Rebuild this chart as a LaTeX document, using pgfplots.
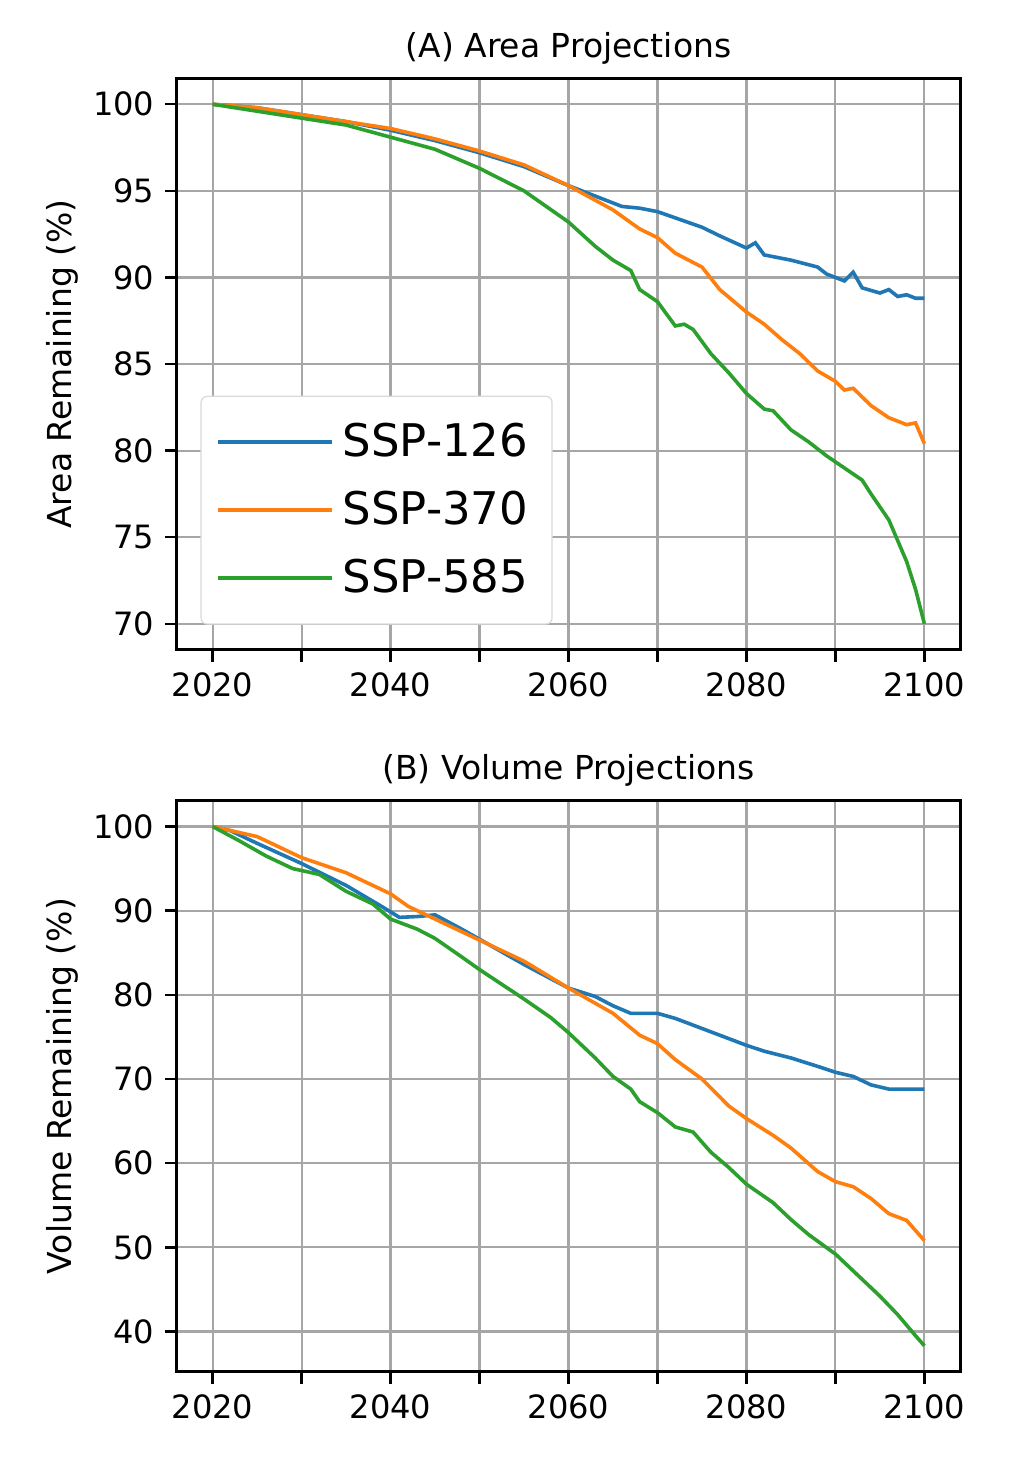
\documentclass[border=0pt]{standalone}
\usepackage{pgfplots}
\pgfplotsset{compat=1.18}
\usepackage{fontspec}
\setmainfont{DejaVu Sans}
\definecolor{tb}{HTML}{1F77B4}
\definecolor{to}{HTML}{FF7F0E}
\definecolor{tg}{HTML}{2CA02C}
\pgfplotsset{
  common/.style={
    scale only axis, width=261pt, height=190.5pt,
    xmin=2016, xmax=2104,
    xtick={2020,2030,...,2100},
    xticklabels={2020,,2040,,2060,,2080,,2100},
    xtick pos=bottom, ytick pos=left,
    grid=major, grid style={gray!70, line width=0.7pt},
    axis line style={line width=1pt},
    tick align=outside, tick style={black, line width=0.8pt},
    major tick length=4pt,
    /pgf/number format/assume math mode=true,
    /pgf/number format/1000 sep={},
    ticklabel style={font=\fontsize{10.7}{12}\selectfont},
    label style={font=\fontsize{11}{12}\selectfont},
    title style={font=\fontsize{11}{12}\selectfont, yshift=-5pt},
    every axis plot/.append style={line width=1.2pt, no marks},
  }
}
\begin{document}
\begin{tikzpicture}
\useasboundingbox (-59pt,-32.7pt) rectangle (280pt,457.3pt);
\begin{axis}[common, at={(0,240.7pt)}, anchor=south west,
  ymin=68.5, ymax=101.5, ytick={70,75,...,100},
  title={(A) Area Projections}, ylabel={Area Remaining (\%)},
  ylabel style={yshift=-2pt},
  legend style={at={(0.03,0.044)}, anchor=south west, font=\fontsize{15}{17}\selectfont,
    draw=gray!30, rounded corners=2pt, row sep=4pt, inner xsep=5pt, inner ysep=6pt,
    nodes={inner sep=3pt}},
  legend cell align=left,
  legend image code/.code={\draw[#1, line width=1.2pt] (0pt,0pt) -- (31pt,0pt);\path (0pt,0pt) -- (38pt,0pt);}]
\addplot[tb] coordinates {(2020,100) (2025,99.8) (2030,99.4) (2035,99.0) (2040,98.5) (2045,97.9) (2050,97.2) (2055,96.4) (2060,95.3) (2063,94.7) (2066,94.1) (2068,94.0) (2070,93.8) (2075,92.9) (2077,92.4) (2080,91.7) (2081,92.0) (2082,91.3) (2085,91.0) (2088,90.6) (2089,90.2) (2091,89.8) (2092,90.3) (2093,89.4) (2095,89.1) (2096,89.3) (2097,88.9) (2098,89.0) (2099,88.8) (2100,88.8)};
\addlegendentry{SSP-126}
\addplot[to] coordinates {(2020,100) (2025,99.8) (2030,99.4) (2035,99.0) (2040,98.6) (2045,98.0) (2050,97.3) (2055,96.5) (2060,95.3) (2065,93.9) (2068,92.8) (2070,92.3) (2072,91.4) (2075,90.6) (2077,89.3) (2080,88.0) (2082,87.3) (2084,86.4) (2086,85.6) (2088,84.6) (2090,84.0) (2091,83.5) (2092,83.6) (2094,82.6) (2096,81.9) (2098,81.5) (2099,81.6) (2100,80.4)};
\addlegendentry{SSP-370}
\addplot[tg] coordinates {(2020,100) (2025,99.6) (2030,99.2) (2035,98.8) (2040,98.1) (2045,97.4) (2050,96.3) (2055,95.0) (2060,93.2) (2063,91.8) (2065,91.0) (2067,90.4) (2068,89.3) (2070,88.6) (2072,87.2) (2073,87.3) (2074,87.0) (2076,85.6) (2078,84.5) (2080,83.3) (2082,82.4) (2083,82.3) (2085,81.2) (2087,80.5) (2089,79.7) (2091,79.0) (2093,78.3) (2094,77.5) (2096,76.0) (2097,74.8) (2098,73.6) (2099,72.0) (2100,70.0)};
\addlegendentry{SSP-585}
\end{axis}
\begin{axis}[common, at={(0,0)}, anchor=south west,
  ymin=35.2, ymax=103.1, ytick={40,50,...,100},
  title={(B) Volume Projections}, ylabel={Volume Remaining (\%)},
  ylabel style={yshift=-2pt}]
\addplot[tb] coordinates {(2020,100) (2022,99.5) (2025,98) (2030,95.6) (2035,93) (2039,90.5) (2041,89.2) (2043,89.3) (2045,89.5) (2048,87.8) (2050,86.6) (2055,83.6) (2060,80.8) (2063,79.8) (2065,78.7) (2067,77.8) (2070,77.8) (2072,77.2) (2075,76.0) (2078,74.8) (2080,74.0) (2082,73.3) (2085,72.5) (2088,71.5) (2090,70.8) (2092,70.3) (2094,69.3) (2096,68.8) (2098,68.8) (2100,68.8)};
\addplot[to] coordinates {(2020,100) (2025,98.8) (2030,96.3) (2035,94.5) (2040,92.0) (2042,90.5) (2045,89.0) (2050,86.5) (2055,84.0) (2060,80.8) (2065,77.8) (2068,75.2) (2070,74.2) (2072,72.3) (2075,70.0) (2078,66.8) (2080,65.3) (2083,63.3) (2085,61.8) (2088,59.0) (2090,57.8) (2092,57.2) (2094,55.8) (2096,54.0) (2098,53.2) (2100,50.8)};
\addplot[tg] coordinates {(2020,100) (2023,98.3) (2026,96.5) (2029,95.0) (2032,94.3) (2035,92.3) (2038,90.8) (2040,89.0) (2043,87.8) (2045,86.7) (2048,84.5) (2050,83.0) (2055,79.5) (2058,77.3) (2060,75.5) (2063,72.5) (2065,70.3) (2067,68.8) (2068,67.3) (2070,66.0) (2072,64.3) (2074,63.7) (2076,61.3) (2078,59.5) (2080,57.5) (2083,55.3) (2085,53.3) (2087,51.5) (2090,49.2) (2093,46.2) (2095,44.2) (2097,42.0) (2099,39.5) (2100,38.3)};
\end{axis}
\end{tikzpicture}
\end{document}
